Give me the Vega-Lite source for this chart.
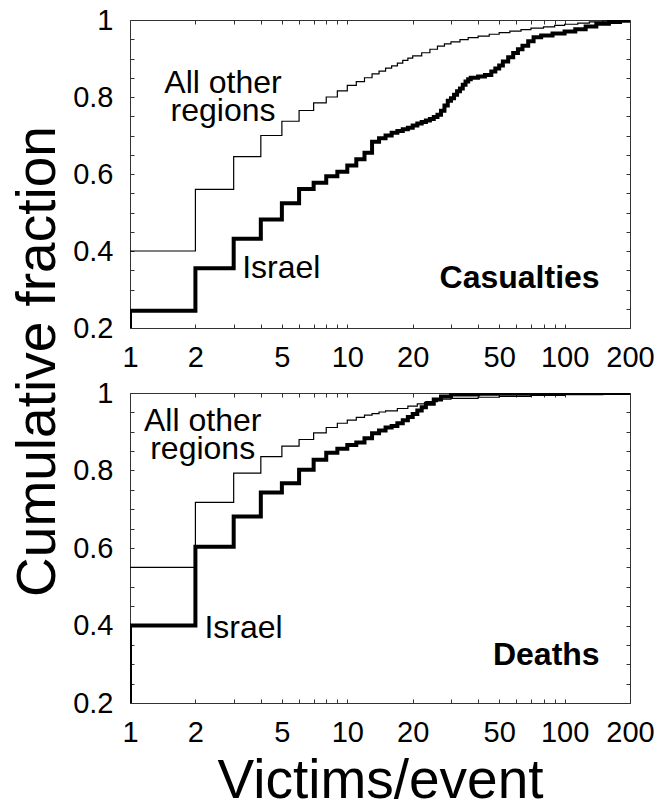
{
  "$schema": "https://vega.github.io/schema/vega-lite/v6.json",
  "background": "white",
  "padding": {"left": 9, "top": 6, "right": 5, "bottom": 5},
  "bounds": "flush",
  "spacing": 65,
  "config": {
    "font": "Liberation Sans",
    "view": {"stroke": null},
    "axis": {
      "labelFont": "Liberation Sans",
      "labelFontSize": 29,
      "labelColor": "black",
      "domainColor": "#333",
      "tickColor": "#333",
      "tickSize": -4,
      "grid": false,
      "labelFlush": false,
      "labelOverlap": false,
      "titleFont": "Liberation Sans",
      "titleFontSize": 55,
      "titleFontWeight": "normal",
      "titleColor": "black"
    }
  },
  "datasets": {
    "cdf": [
      {"p": "Casualties", "s": "Other", "x": 1, "y": 0.40},
      {"p": "Casualties", "s": "Other", "x": 2, "y": 0.56},
      {"p": "Casualties", "s": "Other", "x": 3, "y": 0.645},
      {"p": "Casualties", "s": "Other", "x": 4, "y": 0.70},
      {"p": "Casualties", "s": "Other", "x": 5, "y": 0.737},
      {"p": "Casualties", "s": "Other", "x": 6, "y": 0.765},
      {"p": "Casualties", "s": "Other", "x": 7, "y": 0.785},
      {"p": "Casualties", "s": "Other", "x": 8, "y": 0.80},
      {"p": "Casualties", "s": "Other", "x": 9, "y": 0.816},
      {"p": "Casualties", "s": "Other", "x": 10, "y": 0.83},
      {"p": "Casualties", "s": "Other", "x": 11, "y": 0.84},
      {"p": "Casualties", "s": "Other", "x": 12, "y": 0.85},
      {"p": "Casualties", "s": "Other", "x": 13, "y": 0.86},
      {"p": "Casualties", "s": "Other", "x": 14, "y": 0.867},
      {"p": "Casualties", "s": "Other", "x": 15, "y": 0.875},
      {"p": "Casualties", "s": "Other", "x": 16, "y": 0.881},
      {"p": "Casualties", "s": "Other", "x": 17, "y": 0.888},
      {"p": "Casualties", "s": "Other", "x": 18, "y": 0.895},
      {"p": "Casualties", "s": "Other", "x": 19, "y": 0.901},
      {"p": "Casualties", "s": "Other", "x": 20, "y": 0.907},
      {"p": "Casualties", "s": "Other", "x": 22, "y": 0.915},
      {"p": "Casualties", "s": "Other", "x": 24, "y": 0.924},
      {"p": "Casualties", "s": "Other", "x": 26, "y": 0.932},
      {"p": "Casualties", "s": "Other", "x": 28, "y": 0.938},
      {"p": "Casualties", "s": "Other", "x": 30, "y": 0.943},
      {"p": "Casualties", "s": "Other", "x": 33, "y": 0.949},
      {"p": "Casualties", "s": "Other", "x": 36, "y": 0.954},
      {"p": "Casualties", "s": "Other", "x": 40, "y": 0.958},
      {"p": "Casualties", "s": "Other", "x": 45, "y": 0.963},
      {"p": "Casualties", "s": "Other", "x": 50, "y": 0.967},
      {"p": "Casualties", "s": "Other", "x": 56, "y": 0.971},
      {"p": "Casualties", "s": "Other", "x": 63, "y": 0.975},
      {"p": "Casualties", "s": "Other", "x": 70, "y": 0.979},
      {"p": "Casualties", "s": "Other", "x": 80, "y": 0.982},
      {"p": "Casualties", "s": "Other", "x": 90, "y": 0.986},
      {"p": "Casualties", "s": "Other", "x": 100, "y": 0.989},
      {"p": "Casualties", "s": "Other", "x": 115, "y": 0.992},
      {"p": "Casualties", "s": "Other", "x": 130, "y": 0.995},
      {"p": "Casualties", "s": "Other", "x": 150, "y": 0.997},
      {"p": "Casualties", "s": "Other", "x": 175, "y": 0.999},
      {"p": "Casualties", "s": "Other", "x": 200, "y": 1.0},

      {"p": "Casualties", "s": "Israel", "x": 1, "y": 0},
      {"p": "Casualties", "s": "Israel", "x": 1, "y": 0.245},
      {"p": "Casualties", "s": "Israel", "x": 2, "y": 0.355},
      {"p": "Casualties", "s": "Israel", "x": 3, "y": 0.432},
      {"p": "Casualties", "s": "Israel", "x": 4, "y": 0.482},
      {"p": "Casualties", "s": "Israel", "x": 5, "y": 0.524},
      {"p": "Casualties", "s": "Israel", "x": 6, "y": 0.561},
      {"p": "Casualties", "s": "Israel", "x": 7, "y": 0.577},
      {"p": "Casualties", "s": "Israel", "x": 8, "y": 0.594},
      {"p": "Casualties", "s": "Israel", "x": 9, "y": 0.606},
      {"p": "Casualties", "s": "Israel", "x": 10, "y": 0.622},
      {"p": "Casualties", "s": "Israel", "x": 11, "y": 0.638},
      {"p": "Casualties", "s": "Israel", "x": 12, "y": 0.655},
      {"p": "Casualties", "s": "Israel", "x": 13, "y": 0.684},
      {"p": "Casualties", "s": "Israel", "x": 14, "y": 0.693},
      {"p": "Casualties", "s": "Israel", "x": 15, "y": 0.700},
      {"p": "Casualties", "s": "Israel", "x": 16, "y": 0.707},
      {"p": "Casualties", "s": "Israel", "x": 17, "y": 0.712},
      {"p": "Casualties", "s": "Israel", "x": 18, "y": 0.716},
      {"p": "Casualties", "s": "Israel", "x": 19, "y": 0.720},
      {"p": "Casualties", "s": "Israel", "x": 20, "y": 0.726},
      {"p": "Casualties", "s": "Israel", "x": 21, "y": 0.731},
      {"p": "Casualties", "s": "Israel", "x": 22, "y": 0.735},
      {"p": "Casualties", "s": "Israel", "x": 23, "y": 0.739},
      {"p": "Casualties", "s": "Israel", "x": 24, "y": 0.743},
      {"p": "Casualties", "s": "Israel", "x": 25, "y": 0.748},
      {"p": "Casualties", "s": "Israel", "x": 26, "y": 0.754},
      {"p": "Casualties", "s": "Israel", "x": 27, "y": 0.764},
      {"p": "Casualties", "s": "Israel", "x": 28, "y": 0.778},
      {"p": "Casualties", "s": "Israel", "x": 29, "y": 0.790},
      {"p": "Casualties", "s": "Israel", "x": 30, "y": 0.797},
      {"p": "Casualties", "s": "Israel", "x": 31, "y": 0.806},
      {"p": "Casualties", "s": "Israel", "x": 32, "y": 0.815},
      {"p": "Casualties", "s": "Israel", "x": 33, "y": 0.822},
      {"p": "Casualties", "s": "Israel", "x": 34, "y": 0.832},
      {"p": "Casualties", "s": "Israel", "x": 35, "y": 0.840},
      {"p": "Casualties", "s": "Israel", "x": 36, "y": 0.846},
      {"p": "Casualties", "s": "Israel", "x": 37, "y": 0.850},
      {"p": "Casualties", "s": "Israel", "x": 40, "y": 0.853},
      {"p": "Casualties", "s": "Israel", "x": 43, "y": 0.857},
      {"p": "Casualties", "s": "Israel", "x": 46, "y": 0.866},
      {"p": "Casualties", "s": "Israel", "x": 48, "y": 0.874},
      {"p": "Casualties", "s": "Israel", "x": 50, "y": 0.882},
      {"p": "Casualties", "s": "Israel", "x": 52, "y": 0.892},
      {"p": "Casualties", "s": "Israel", "x": 55, "y": 0.903},
      {"p": "Casualties", "s": "Israel", "x": 58, "y": 0.914},
      {"p": "Casualties", "s": "Israel", "x": 61, "y": 0.924},
      {"p": "Casualties", "s": "Israel", "x": 64, "y": 0.933},
      {"p": "Casualties", "s": "Israel", "x": 68, "y": 0.945},
      {"p": "Casualties", "s": "Israel", "x": 72, "y": 0.955},
      {"p": "Casualties", "s": "Israel", "x": 78, "y": 0.960},
      {"p": "Casualties", "s": "Israel", "x": 88, "y": 0.965},
      {"p": "Casualties", "s": "Israel", "x": 100, "y": 0.970},
      {"p": "Casualties", "s": "Israel", "x": 112, "y": 0.976},
      {"p": "Casualties", "s": "Israel", "x": 125, "y": 0.983},
      {"p": "Casualties", "s": "Israel", "x": 140, "y": 0.990},
      {"p": "Casualties", "s": "Israel", "x": 160, "y": 0.995},
      {"p": "Casualties", "s": "Israel", "x": 180, "y": 0.998},
      {"p": "Casualties", "s": "Israel", "x": 200, "y": 1.0},

      {"p": "Deaths", "s": "Other", "x": 1, "y": 0.55},
      {"p": "Deaths", "s": "Other", "x": 2, "y": 0.718},
      {"p": "Deaths", "s": "Other", "x": 3, "y": 0.793},
      {"p": "Deaths", "s": "Other", "x": 4, "y": 0.836},
      {"p": "Deaths", "s": "Other", "x": 5, "y": 0.863},
      {"p": "Deaths", "s": "Other", "x": 6, "y": 0.880},
      {"p": "Deaths", "s": "Other", "x": 7, "y": 0.897},
      {"p": "Deaths", "s": "Other", "x": 8, "y": 0.911},
      {"p": "Deaths", "s": "Other", "x": 9, "y": 0.922},
      {"p": "Deaths", "s": "Other", "x": 10, "y": 0.930},
      {"p": "Deaths", "s": "Other", "x": 11, "y": 0.937},
      {"p": "Deaths", "s": "Other", "x": 12, "y": 0.943},
      {"p": "Deaths", "s": "Other", "x": 13, "y": 0.947},
      {"p": "Deaths", "s": "Other", "x": 14, "y": 0.951},
      {"p": "Deaths", "s": "Other", "x": 15, "y": 0.954},
      {"p": "Deaths", "s": "Other", "x": 17, "y": 0.960},
      {"p": "Deaths", "s": "Other", "x": 19, "y": 0.966},
      {"p": "Deaths", "s": "Other", "x": 21, "y": 0.972},
      {"p": "Deaths", "s": "Other", "x": 23, "y": 0.978},
      {"p": "Deaths", "s": "Other", "x": 26, "y": 0.984},
      {"p": "Deaths", "s": "Other", "x": 30, "y": 0.986},
      {"p": "Deaths", "s": "Other", "x": 40, "y": 0.989},
      {"p": "Deaths", "s": "Other", "x": 50, "y": 0.991},
      {"p": "Deaths", "s": "Other", "x": 70, "y": 0.994},
      {"p": "Deaths", "s": "Other", "x": 100, "y": 0.996},
      {"p": "Deaths", "s": "Other", "x": 150, "y": 0.998},
      {"p": "Deaths", "s": "Other", "x": 200, "y": 1.0},

      {"p": "Deaths", "s": "Israel", "x": 1, "y": 0},
      {"p": "Deaths", "s": "Israel", "x": 1, "y": 0.40},
      {"p": "Deaths", "s": "Israel", "x": 2, "y": 0.603},
      {"p": "Deaths", "s": "Israel", "x": 3, "y": 0.681},
      {"p": "Deaths", "s": "Israel", "x": 4, "y": 0.743},
      {"p": "Deaths", "s": "Israel", "x": 5, "y": 0.767},
      {"p": "Deaths", "s": "Israel", "x": 6, "y": 0.802},
      {"p": "Deaths", "s": "Israel", "x": 7, "y": 0.828},
      {"p": "Deaths", "s": "Israel", "x": 8, "y": 0.846},
      {"p": "Deaths", "s": "Israel", "x": 9, "y": 0.856},
      {"p": "Deaths", "s": "Israel", "x": 10, "y": 0.866},
      {"p": "Deaths", "s": "Israel", "x": 11, "y": 0.872},
      {"p": "Deaths", "s": "Israel", "x": 12, "y": 0.883},
      {"p": "Deaths", "s": "Israel", "x": 13, "y": 0.896},
      {"p": "Deaths", "s": "Israel", "x": 14, "y": 0.903},
      {"p": "Deaths", "s": "Israel", "x": 15, "y": 0.911},
      {"p": "Deaths", "s": "Israel", "x": 16, "y": 0.915},
      {"p": "Deaths", "s": "Israel", "x": 17, "y": 0.922},
      {"p": "Deaths", "s": "Israel", "x": 18, "y": 0.930},
      {"p": "Deaths", "s": "Israel", "x": 19, "y": 0.938},
      {"p": "Deaths", "s": "Israel", "x": 20, "y": 0.946},
      {"p": "Deaths", "s": "Israel", "x": 21, "y": 0.955},
      {"p": "Deaths", "s": "Israel", "x": 22, "y": 0.963},
      {"p": "Deaths", "s": "Israel", "x": 23, "y": 0.972},
      {"p": "Deaths", "s": "Israel", "x": 25, "y": 0.983},
      {"p": "Deaths", "s": "Israel", "x": 27, "y": 0.991},
      {"p": "Deaths", "s": "Israel", "x": 30, "y": 0.996},
      {"p": "Deaths", "s": "Israel", "x": 40, "y": 0.998},
      {"p": "Deaths", "s": "Israel", "x": 90, "y": 1.0},
      {"p": "Deaths", "s": "Israel", "x": 200, "y": 1.0}
    ],
    "notes": [
      {"p": "Casualties", "t": "All other", "x": 2.68, "y": 0.836},
      {"p": "Casualties", "t": "regions", "x": 2.68, "y": 0.764},
      {"p": "Casualties", "t": "Israel", "x": 4.97, "y": 0.356},
      {"p": "Deaths", "t": "All other", "x": 2.16, "y": 0.929},
      {"p": "Deaths", "t": "regions", "x": 2.16, "y": 0.855},
      {"p": "Deaths", "t": "Israel", "x": 3.33, "y": 0.393}
    ],
    "panels": [
      {"p": "Casualties", "t": "Casualties", "x": 145, "y": 0.330},
      {"p": "Deaths", "t": "Deaths", "x": 145, "y": 0.324}
    ]
  },
  "vconcat": [
    {
      "width": 500,
      "height": 308,
      "layer": [
        {
          "data": {"name": "cdf"},
          "transform": [{"filter": "datum.p == 'Casualties'"}],
          "mark": {"type": "line", "interpolate": "step-after", "clip": true, "color": "black"},
          "encoding": {
            "x": {"field": "x", "type": "quantitative",
                  "scale": {"type": "log", "domain": [1, 200], "nice": false},
                  "axis": {"orient": "bottom", "title": null,
                           "values": [1,2,3,4,5,6,7,8,9,10,20,30,40,50,60,70,80,90,100,200],
                           "format": "d",
                           "labelExpr": "indexof([1,2,5,10,20,50,100,200], datum.value) >= 0 ? datum.label : ''",
                           "labelPadding": 19}},
            "y": {"field": "y", "type": "quantitative",
                  "scale": {"domain": [0.2, 1], "nice": false},
                  "axis": {"orient": "left", "title": "Cumulative fraction",
                           "values": [0.2,0.25,0.3,0.35,0.4,0.45,0.5,0.55,0.6,0.65,0.7,0.75,0.8,0.85,0.9,0.95,1],
                           "format": "~g",
                           "labelExpr": "round(datum.value*20) % 4 == 0 ? datum.label : ''",
                           "labelPadding": 21,
                           "titleX": -76, "titleY": 341, "titleBaseline": "alphabetic", "titleAngle": 270}},
            "strokeWidth": {"field": "s", "type": "nominal",
                            "scale": {"domain": ["Israel", "Other"], "range": [4, 1.2]}, "legend": null},
            "detail": {"field": "s"}
          }
        },
        {
          "data": {"name": "notes"},
          "transform": [{"filter": "datum.p == 'Casualties'"}],
          "mark": {"type": "text", "fontSize": 32, "font": "Liberation Sans", "align": "center", "baseline": "middle", "color": "black"},
          "encoding": {
            "x": {"field": "x", "type": "quantitative",
                  "axis": {"orient": "top", "title": null, "labels": false,
                           "values": [1,2,3,4,5,6,7,8,9,10,20,30,40,50,60,70,80,90,100,200]}},
            "y": {"field": "y", "type": "quantitative",
                  "axis": {"orient": "right", "title": null, "labels": false,
                           "values": [0.2,0.25,0.3,0.35,0.4,0.45,0.5,0.55,0.6,0.65,0.7,0.75,0.8,0.85,0.9,0.95,1]}},
            "text": {"field": "t"}
          }
        },
        {
          "data": {"name": "panels"},
          "transform": [{"filter": "datum.p == 'Casualties'"}],
          "mark": {"type": "text", "fontSize": 32, "fontWeight": "bold", "font": "Liberation Sans", "align": "right", "baseline": "middle", "color": "black"},
          "encoding": {
            "x": {"field": "x", "type": "quantitative", "axis": null},
            "y": {"field": "y", "type": "quantitative", "axis": null},
            "text": {"field": "t"}
          }
        }
      ],
      "resolve": {"axis": {"x": "independent", "y": "independent"}}
    },
    {
      "width": 500,
      "height": 310,
      "layer": [
        {
          "data": {"name": "cdf"},
          "transform": [{"filter": "datum.p == 'Deaths'"}],
          "mark": {"type": "line", "interpolate": "step-after", "clip": true, "color": "black"},
          "encoding": {
            "x": {"field": "x", "type": "quantitative",
                  "scale": {"type": "log", "domain": [1, 200], "nice": false},
                  "axis": {"orient": "bottom", "title": "Victims/event",
                           "values": [1,2,3,4,5,6,7,8,9,10,20,30,40,50,60,70,80,90,100,200],
                           "format": "d",
                           "labelExpr": "indexof([1,2,5,10,20,50,100,200], datum.value) >= 0 ? datum.label : ''",
                           "labelPadding": 19,
                           "titleY": 94, "titleBaseline": "alphabetic"}},
            "y": {"field": "y", "type": "quantitative",
                  "scale": {"domain": [0.2, 1], "nice": false},
                  "axis": {"orient": "left", "title": null,
                           "values": [0.2,0.25,0.3,0.35,0.4,0.45,0.5,0.55,0.6,0.65,0.7,0.75,0.8,0.85,0.9,0.95,1],
                           "format": "~g",
                           "labelExpr": "round(datum.value*20) % 4 == 0 ? datum.label : ''",
                           "labelPadding": 21}},
            "strokeWidth": {"field": "s", "type": "nominal",
                            "scale": {"domain": ["Israel", "Other"], "range": [4, 1.2]}, "legend": null},
            "detail": {"field": "s"}
          }
        },
        {
          "data": {"name": "notes"},
          "transform": [{"filter": "datum.p == 'Deaths'"}],
          "mark": {"type": "text", "fontSize": 32, "font": "Liberation Sans", "align": "center", "baseline": "middle", "color": "black"},
          "encoding": {
            "x": {"field": "x", "type": "quantitative",
                  "axis": {"orient": "top", "title": null, "labels": false,
                           "values": [1,2,3,4,5,6,7,8,9,10,20,30,40,50,60,70,80,90,100,200]}},
            "y": {"field": "y", "type": "quantitative",
                  "axis": {"orient": "right", "title": null, "labels": false,
                           "values": [0.2,0.25,0.3,0.35,0.4,0.45,0.5,0.55,0.6,0.65,0.7,0.75,0.8,0.85,0.9,0.95,1]}},
            "text": {"field": "t"}
          }
        },
        {
          "data": {"name": "panels"},
          "transform": [{"filter": "datum.p == 'Deaths'"}],
          "mark": {"type": "text", "fontSize": 32, "fontWeight": "bold", "font": "Liberation Sans", "align": "right", "baseline": "middle", "color": "black"},
          "encoding": {
            "x": {"field": "x", "type": "quantitative", "axis": null},
            "y": {"field": "y", "type": "quantitative", "axis": null},
            "text": {"field": "t"}
          }
        }
      ],
      "resolve": {"axis": {"x": "independent", "y": "independent"}}
    }
  ]
}
